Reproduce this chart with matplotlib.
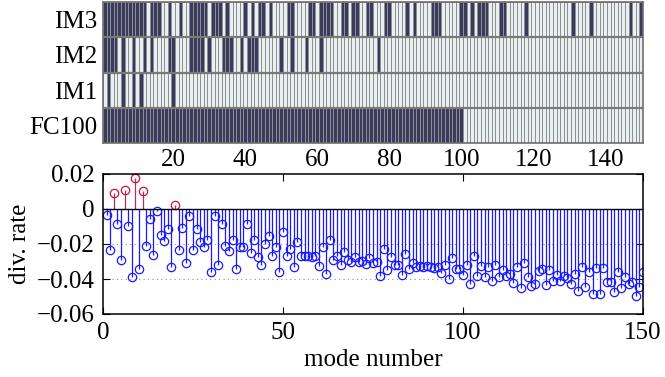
import numpy as np
import matplotlib
matplotlib.use("Agg")
import matplotlib.pyplot as plt
from matplotlib.colors import ListedColormap

plt.rcParams['font.family'] = ['Liberation Serif', 'DejaVu Serif']
plt.rcParams['font.size'] = 18

# ---- data ----
modes = np.arange(1, 151)
div_rate = [
    -0.0033, -0.0233, 0.0091, -0.0086, -0.0290, 0.0109, -0.0095, -0.0387, 0.0177, -0.0343,
    0.0105, -0.0210, -0.0057, -0.0263, -0.0010, -0.0147, -0.0185, -0.0114, -0.0330, 0.0023,
    -0.0234, -0.0109, -0.0310, -0.0038, -0.0234, -0.0114, -0.0190, -0.0215, -0.0180, -0.0358,
    -0.0038, -0.0320, -0.0086, -0.0210, -0.0242, -0.0175, -0.0340, -0.0215, -0.0215, -0.0086,
    -0.0251, -0.0180, -0.0273, -0.0318, -0.0200, -0.0153, -0.0267, -0.0215, -0.0358, -0.0130,
    -0.0271, -0.0229, -0.0334, -0.0190, -0.0271, -0.0271, -0.0271, -0.0277, -0.0267, -0.0328,
    -0.0219, -0.0372, -0.0177, -0.0290, -0.0267, -0.0318, -0.0244, -0.0290, -0.0301, -0.0277,
    -0.0301, -0.0295, -0.0314, -0.0282, -0.0310, -0.0300, -0.0385, -0.0229, -0.0347, -0.0273,
    -0.0318, -0.0318, -0.0377, -0.0257, -0.0343, -0.0310, -0.0334, -0.0324, -0.0334, -0.0324,
    -0.0334, -0.0337, -0.0330, -0.0368, -0.0320, -0.0400, -0.0282, -0.0343, -0.0343, -0.0377,
    -0.0320, -0.0429, -0.0267, -0.0381, -0.0324, -0.0387, -0.0334, -0.0410, -0.0318, -0.0390,
    -0.0349, -0.0381, -0.0372, -0.0425, -0.0334, -0.0452, -0.0310, -0.0387, -0.0438, -0.0429,
    -0.0353, -0.0343, -0.0434, -0.0349, -0.0410, -0.0377, -0.0414, -0.0381, -0.0394, -0.0429,
    -0.0372, -0.0471, -0.0330, -0.0444, -0.0358, -0.0486, -0.0337, -0.0486, -0.0337, -0.0419,
    -0.0419, -0.0477, -0.0358, -0.0453, -0.0387, -0.0429, -0.0415, -0.0495, -0.0448, -0.0358,
]

# modes selected by each method (dark cells)
im3_modes = [1, 2, 3, 4, 5, 6, 7, 8, 9, 10, 11, 12, 14, 15, 16, 19, 22, 25, 26, 27, 28, 29,
             31, 32, 33, 35, 40, 42, 44, 45, 47, 52, 53, 58, 59, 61, 62, 63, 64, 67, 68,
             70, 71, 74, 75, 79, 80, 85, 87, 92, 93, 94, 100, 101, 103, 105, 106, 107,
             111, 112, 118, 131, 136, 147, 150]
im2_modes = [1, 2, 3, 4, 6, 9, 12, 14, 19, 20, 25, 26, 27, 28, 30, 34, 35, 36, 39, 41, 42,
             43, 50, 53, 57, 61, 77]
im1_modes = [2, 6, 9, 11, 20]
fc100_modes = list(range(1, 101))

row_labels = ['FC100', 'IM1', 'IM2', 'IM3']
top_ticks = [20, 40, 60, 80, 100, 120, 140]
bottom_ticks = [0, 50, 100, 150]
y_ticks = [0.02, 0, -0.02, -0.04, -0.06]

# ---- figure ----
W, H = 665, 377
fig = plt.figure(figsize=(W / 100, H / 100), dpi=100)

def px_axes(x0, y0, x1, y1):
    return fig.add_axes([x0 / W, 1 - y1 / H, (x1 - x0) / W, (y1 - y0) / H])

# top: selection map
ax1 = px_axes(103, 2, 643, 143)
sel = np.zeros((4, 150))
for r, lst in enumerate([fc100_modes, im1_modes, im2_modes, im3_modes]):
    sel[r, np.array(lst) - 1] = 1
xe = np.arange(0.5, 151.5, 1)
ye = np.arange(0, 5)
cmap = ListedColormap(['#e8f1f0', '#3a3a5a'])
ax1.pcolormesh(xe, ye, sel, cmap=cmap, vmin=0, vmax=1,
               edgecolors='#8e8e96', linewidth=0.5)
for yy in [1, 2, 3]:
    ax1.axhline(yy, color='#7a7a7a', lw=1.6)
ax1.set_xlim(0.5, 150.5)
ax1.set_ylim(0, 4)
ax1.set_yticks(np.arange(4) + 0.5)
ax1.set_yticklabels(row_labels)
ax1.set_xticks(top_ticks)
ax1.tick_params(length=0, pad=4)
for s in ax1.spines.values():
    s.set_color('#6e6e6e')
    s.set_linewidth(1.2)

# bottom: divergence rate stems
ax2 = px_axes(103, 174, 643, 314)
vals = np.array(div_rate)
neg = vals <= 0
pos = vals > 0
ml, sl, bl = ax2.stem(modes[neg], vals[neg], linefmt='-', markerfmt='o', basefmt=' ')
plt.setp(sl, color='#1a1aff', lw=0.9)
plt.setp(ml, color='#1a1aff', mfc='none', ms=6, mew=0.9)
ml, sl, bl = ax2.stem(modes[pos], vals[pos], linefmt='-', markerfmt='o', basefmt=' ')
plt.setp(sl, color='#b0305a', lw=0.9)
plt.setp(ml, color='#d0103a', mfc='none', ms=6, mew=0.9)
ax2.axhline(0, color='k', lw=1.0, zorder=3)
for yy in [-0.02, -0.04]:
    ax2.axhline(yy, color='#909090', lw=0.8, ls=(0, (1, 3)), zorder=0)
ax2.set_xlim(0, 150)
ax2.set_ylim(-0.06, 0.02)
ax2.set_xticks(bottom_ticks)
ax2.set_yticks(y_ticks)
ax2.set_yticklabels(['0.02', '0', '\u22120.02', '\u22120.04', '\u22120.06'])
ax2.tick_params(direction='in', length=5, width=0.8, top=True, right=True, pad=6)
for s in ax2.spines.values():
    s.set_linewidth(1.1)

fig.text(20 / W, 1 - 244 / H, 'div. rate', rotation=90, ha='center', va='center')
fig.text(373 / W, 1 - 366 / H, 'mode number', ha='center', va='baseline')

fig.savefig('out.png', dpi=100)
